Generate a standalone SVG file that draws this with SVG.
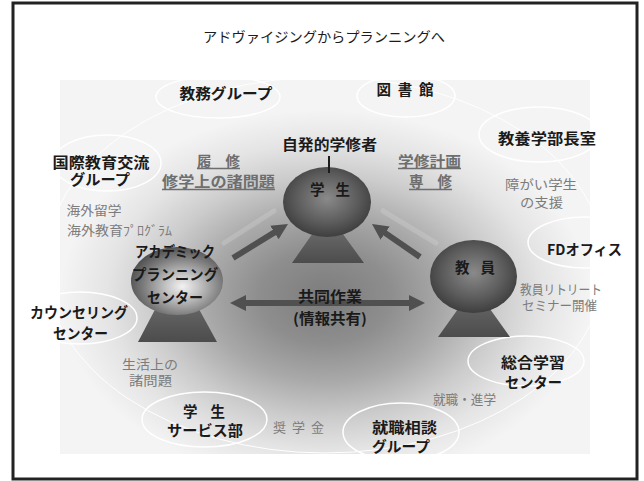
<svg xmlns="http://www.w3.org/2000/svg" width="644" height="481" viewBox="0 0 644 481">
<defs>
<style>
text{font-family:"Noto Sans CJK JP","Noto Sans",sans-serif;text-anchor:middle;dominant-baseline:central}
.lbl{font-weight:700;font-size:14.5px;fill:#1a1a1a}
.gry{font-weight:400;font-size:13px;fill:#7c7c7c}
.und{font-weight:700;font-size:14.5px;fill:#6e6e6e}
.ttl{font-weight:400;font-size:14px;fill:#1c1c1c}
.node{fill:none;stroke:#fff;stroke-width:1.5}
.ring{fill:none;stroke:#fff;stroke-width:1}
.uline{stroke:#6e6e6e;stroke-width:1.3}
.arr{stroke:#505050;stroke-width:6;fill:none}
.cone{fill:url(#coneG)}
.glow{stroke:#d8d8d8;stroke-width:5;opacity:0.3;stroke-linecap:round}
</style>
<radialGradient id="bgG" cx="0.5" cy="0.58" r="0.5">
<stop offset="0" stop-color="#7c7c7c"/>
<stop offset="0.25" stop-color="#8e8e8e"/>
<stop offset="0.45" stop-color="#a9a9a9"/>
<stop offset="0.65" stop-color="#cccccc"/>
<stop offset="0.82" stop-color="#e4e4e4"/>
<stop offset="1" stop-color="#f4f4f4"/>
</radialGradient>
<radialGradient id="sphG" cx="0.5" cy="0.45" r="0.58">
<stop offset="0" stop-color="#8a8a8a"/>
<stop offset="0.6" stop-color="#5c5c5c"/>
<stop offset="1" stop-color="#3a3a3a"/>
</radialGradient>
<radialGradient id="apcG" cx="0.56" cy="0.58" r="0.6">
<stop offset="0" stop-color="#f2f2f2"/>
<stop offset="0.3" stop-color="#c4c4c4"/>
<stop offset="0.72" stop-color="#7a7a7a"/>
<stop offset="1" stop-color="#4e4e4e"/>
</radialGradient>
<linearGradient id="coneG" x1="0" y1="0" x2="0" y2="1">
<stop offset="0" stop-color="#6a6a6a"/>
<stop offset="1" stop-color="#4c4c4c"/>
</linearGradient>
<marker id="ah" markerUnits="userSpaceOnUse" markerWidth="16" markerHeight="16" viewBox="0 0 16 16" refX="2" refY="8" orient="auto-start-reverse">
<path d="M0,0 L16,8 L0,16 z" fill="#505050"/>
</marker>
</defs>

<rect x="13" y="3" width="624" height="476" fill="#fff"/>
<rect x="60" y="80" width="530" height="374" fill="url(#bgG)"/>

<text class="ttl" x="324" y="36" textLength="242" lengthAdjust="spacingAndGlyphs">アドヴァイジングからプランニングへ</text>

<g id="connectors">
<ellipse class="ring" cx="325" cy="265" rx="280" ry="188"/>
<line class="glow" x1="224" y1="243" x2="274" y2="211"/>
<line class="glow" x1="383" y1="211" x2="436" y2="243"/>
</g>

<g id="n-kyomu">
<ellipse class="node" cx="218" cy="97" rx="62" ry="21"/>
<text class="lbl" x="226" y="92.5" textLength="93" lengthAdjust="spacingAndGlyphs">教務グループ</text>
</g>
<g id="n-tosho">
<ellipse class="node" cx="406" cy="96" rx="49" ry="21"/>
<text class="lbl" x="405" y="88" textLength="57">図 書 館</text>
</g>
<g id="n-kyoyo">
<ellipse class="node" cx="539" cy="134.5" rx="60" ry="27.5"/>
<text class="lbl" x="547" y="137.5" textLength="98" lengthAdjust="spacingAndGlyphs">教養学部長室</text>
</g>
<g id="n-kokusai">
<ellipse class="node" cx="107" cy="163" rx="54" ry="28"/>
<text class="lbl" x="101" y="161" textLength="97" lengthAdjust="spacingAndGlyphs">国際教育交流</text>
<text class="lbl" x="100" y="178.5" textLength="60" lengthAdjust="spacingAndGlyphs">グループ</text>
</g>
<g id="n-fd">
<ellipse class="node" cx="585" cy="242.5" rx="57" ry="25.5"/>
<text class="lbl" x="584.5" y="248.5" textLength="75" lengthAdjust="spacingAndGlyphs">FDオフィス</text>
</g>
<g id="n-counsel">
<ellipse class="node" cx="80" cy="318" rx="57" ry="26"/>
<text class="lbl" x="79" y="311.5" textLength="98" lengthAdjust="spacingAndGlyphs">カウンセリング</text>
<text class="lbl" x="80.5" y="332.5" textLength="55" lengthAdjust="spacingAndGlyphs">センター</text>
</g>
<g id="n-service">
<ellipse class="node" cx="204.5" cy="419.5" rx="62.5" ry="27.5"/>
<text class="lbl" x="204" y="410.5" textLength="42">学 生</text>
<text class="lbl" x="205" y="429" textLength="76" lengthAdjust="spacingAndGlyphs">サービス部</text>
</g>
<g id="n-shushoku">
<ellipse class="node" cx="401" cy="432" rx="58" ry="29"/>
<text class="lbl" x="404.5" y="426.5" textLength="65" lengthAdjust="spacingAndGlyphs">就職相談</text>
<text class="lbl" x="401" y="445" textLength="58" lengthAdjust="spacingAndGlyphs">グループ</text>
</g>
<g id="n-sogo">
<ellipse class="node" cx="526" cy="361" rx="58" ry="25"/>
<text class="lbl" x="533" y="361.5" textLength="64" lengthAdjust="spacingAndGlyphs">総合学習</text>
<text class="lbl" x="533.5" y="381" textLength="57" lengthAdjust="spacingAndGlyphs">センター</text>
</g>

<g id="n-student">
<polygon class="cone" points="315,230 340,230 364,263 292,263"/>
<ellipse cx="327" cy="202" rx="44" ry="35" fill="url(#sphG)"/>
<text class="lbl" x="329.5" y="143" textLength="95" lengthAdjust="spacingAndGlyphs">自発的学修者</text>
<line x1="329" y1="156" x2="329" y2="173" stroke="#1c1c1c" stroke-width="2"/>
<text class="lbl" x="330" y="188.5" textLength="40">学 生</text>
</g>
<g id="n-faculty">
<polygon class="cone" points="468,295 480,295 510,337 438,337"/>
<ellipse cx="473.5" cy="276.5" rx="43.5" ry="36.5" fill="url(#sphG)"/>
<text class="lbl" x="475" y="266.5" textLength="40">教 員</text>
</g>
<g id="n-apc">
<polygon class="cone" points="160,300 194,300 217,342 138,342"/>
<ellipse cx="177" cy="281" rx="46" ry="34" fill="url(#apcG)"/>
<text class="lbl" x="175" y="250" textLength="80" lengthAdjust="spacingAndGlyphs">アカデミック</text>
<text class="lbl" x="175" y="273.5" textLength="86" lengthAdjust="spacingAndGlyphs">プランニング</text>
<text class="lbl" x="175" y="296.5" textLength="56" lengthAdjust="spacingAndGlyphs">センター</text>
</g>

<g id="arrows">
<line class="arr" x1="233" y1="258" x2="276.1" y2="231.4" marker-end="url(#ah)"/>
<line class="arr" x1="420" y1="257" x2="383.5" y2="231.9" marker-end="url(#ah)"/>
<line class="arr" x1="244" y1="303" x2="411" y2="303" marker-start="url(#ah)" marker-end="url(#ah)"/>
<text class="lbl" x="330" y="295" textLength="64" lengthAdjust="spacingAndGlyphs">共同作業</text>
<text class="lbl" x="330" y="317.5" textLength="74" lengthAdjust="spacingAndGlyphs">(情報共有)</text>
</g>

<g id="labels">
<text class="und" x="218.5" y="160" textLength="43">履 修</text>
<line class="uline" x1="197" y1="168.5" x2="240" y2="168.5"/>
<text class="und" x="218.5" y="180.5" textLength="113" lengthAdjust="spacingAndGlyphs">修学上の諸問題</text>
<line class="uline" x1="162" y1="189.5" x2="275" y2="189.5"/>
<text class="und" x="429.5" y="160" textLength="63" lengthAdjust="spacingAndGlyphs">学修計画</text>
<line class="uline" x1="398" y1="168.5" x2="461" y2="168.5"/>
<text class="und" x="430.5" y="180.5" textLength="43">専 修</text>
<line class="uline" x1="409" y1="189.5" x2="452" y2="189.5"/>

<text class="gry" x="94" y="209" textLength="55" lengthAdjust="spacingAndGlyphs">海外留学</text>
<text class="gry" x="119.5" y="229" textLength="105" lengthAdjust="spacingAndGlyphs">海外教育ﾌﾟﾛｸﾞﾗﾑ</text>
<text class="gry" x="541" y="183.5" textLength="72" lengthAdjust="spacingAndGlyphs">障がい学生</text>
<text class="gry" x="541.5" y="201" textLength="43" lengthAdjust="spacingAndGlyphs">の支援</text>
<text class="gry" x="561" y="288" textLength="82" lengthAdjust="spacingAndGlyphs">教員リトリート</text>
<text class="gry" x="559.5" y="304.5" textLength="75" lengthAdjust="spacingAndGlyphs">セミナー開催</text>
<text class="gry" x="150" y="363" textLength="56" lengthAdjust="spacingAndGlyphs">生活上の</text>
<text class="gry" x="150.5" y="379.5" textLength="43" lengthAdjust="spacingAndGlyphs">諸問題</text>
<text class="gry" x="298.5" y="426" textLength="51">奨 学 金</text>
<text class="gry" x="464.5" y="398.5" textLength="63" lengthAdjust="spacingAndGlyphs">就職・進学</text>
</g>

<rect x="13" y="3" width="624" height="476" fill="none" stroke="#222" stroke-width="3"/>
</svg>
